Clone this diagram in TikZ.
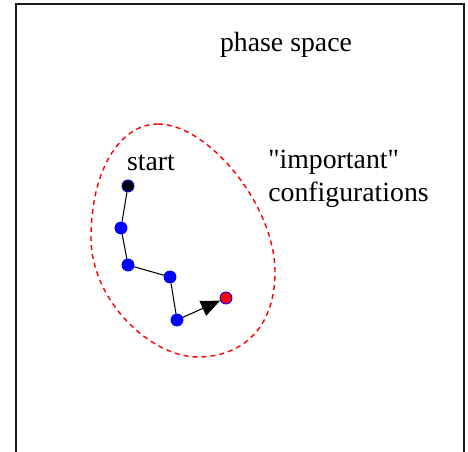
\documentclass[tikz,border=0pt]{standalone}
\usepackage{fontspec}
\setmainfont{Liberation Serif}
\usetikzlibrary{arrows.meta,positioning}
\definecolor{frameink}{HTML}{1A1A1A}
\tikzset{
  state/.style     ={circle, draw=blue, fill=blue, line width=0.5pt,
                     minimum size=0.24cm, inner sep=0pt},
  startstate/.style={state, fill=black},
  endstate/.style  ={state, fill=red},
  hop/.style       ={line width=0.6pt, black},
  lasthop/.style   ={hop, -{Triangle[length=0.38cm,width=0.32cm]}},
  region/.style    ={red, line width=0.8pt, dash pattern=on 0.1cm off 0.08cm},
  lbl/.style       ={font=\fontsize{15.8}{18.5}\selectfont, inner sep=0pt},
}

\begin{document}
\begin{tikzpicture}[x=0.02cm,y=-0.02cm]
  \useasboundingbox (0,0) rectangle (468,452);
  \draw[frameink,line width=1pt] (16,452) -- (16,4) -- (464,4) -- (464,452);

  \node[lbl] (title) at (286,45) {phase space};

  \draw[region] (158,124) .. controls (208,124) and (275,205) .. (275,272)
    .. controls (275,330) and (240,357) .. (198,357)
    .. controls (150,357) and (91,300) .. (91,238)
    .. controls (91,170) and (120,124) .. cycle;

  \node[startstate] (s0) at (128,186) {};
  \node[state]      (s1) at (121,228) {};
  \node[state]      (s2) at (128,265) {};
  \node[state]      (s3) at (170,277) {};
  \node[state]      (s4) at (177,320) {};
  \node[endstate]   (s5) at (226,298) {};

  \node[lbl] (start) at (151,163) {start};
  \node[lbl,align=left,anchor=west] (important) at (268,179)
    {\textquotedbl important\textquotedbl\\configurations};

  \draw[hop] (s0) -- (s1) -- (s2) -- (s3) -- (s4);
  \draw[lasthop] (s4) -- (s5);
\end{tikzpicture}
\end{document}
